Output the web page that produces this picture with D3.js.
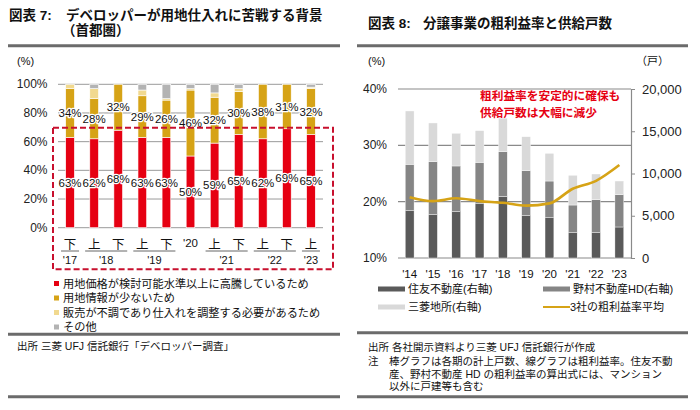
<!DOCTYPE html>
<html><head><meta charset="utf-8">
<script src="https://cdn.jsdelivr.net/npm/d3@7"></script>
<style>
body{margin:0;background:#fff;}
svg{display:block;font-family:"Liberation Sans","Noto Sans CJK JP",sans-serif;}
</style></head>
<body><svg id="c" width="700" height="410"></svg>
<script>
// ---- Left chart data (図表7) ----
const halfLabels = ["下","上","下","上","下","'20","上","下","上","下","上"];
const yearGroups = [["'17",0,0],["'18",1,2],["'19",3,4],["'21",6,7],["'22",8,9],["'23",10,10]];
const priceHigh = [63,62,68,63,63,50,59,65,62,69,65];
const fewInfo   = [34,28,32,29,26,46,32,30,38,31,32];
const salesSlow = [3,7,0,4,1,1,3,2,0,0,1];
const otherReason = [0,3,0,4,10,3,6,3,0,0,2];
const leftTicks = [0,20,40,60,80,100];
const leftLegend = ["用地価格が検討可能水準以上に高騰しているため","用地情報が少ないため","販売が不調であり仕入れを調整する必要があるため","その他"];

// ---- Right chart data (図表8) ----
const years = ["'14","'15","'16","'17","'18","'19","'20","'21","'22","'23"];
const sumitomo   = [5600,5130,5480,6430,7300,5010,4770,3000,3000,3670];
const nomura     = [5490,6270,5410,4890,5280,5310,4340,3270,3900,3820];
const mitsubishi = [6310,4580,3870,3750,3970,4030,3280,3520,3040,1620];
const margin     = [20.8,20.1,20.6,20.1,19.8,19.3,19.7,22.3,23.7,26.5];
const rightPctTicks = [10,20,30,40];
const rightUnitTicks = [0,5000,10000,15000,20000];

const svg = d3.select("#c");
const F = '"Liberation Sans","Noto Sans CJK JP",sans-serif';

function txt(g,x,y,s,opt={}){
  return g.append("text").attr("x",x).attr("y",y).attr("dominant-baseline","central")
    .attr("font-size",opt.size||11).attr("font-weight",opt.bold?"bold":"normal")
    .attr("fill",opt.fill||"#111").attr("text-anchor",opt.anchor||"start").text(s);
}
function hline(x1,x2,y,w,c){svg.append("line").attr("x1",x1).attr("x2",x2).attr("y1",y).attr("y2",y).attr("stroke",c).attr("stroke-width",w);}

// ================= LEFT =================
const L = svg.append("g");
txt(L,9,15,"図表 7:",{size:13.5,bold:true});
txt(L,66,15,"デベロッパーが用地仕入れに苦戦する背景",{size:13.5,bold:true});
txt(L,62,30,"（首都圏）",{size:13.5,bold:true});
hline(8,340,45.7,3,"#6b6b6b");
txt(L,17,61,"(%)",{size:11});

const ly = d3.scaleLinear().domain([0,100]).range([227.7,84.3]);
const lx = d3.scaleBand().domain(d3.range(halfLabels.length)).range([58,323]).paddingInner(0.64).paddingOuter(0.32);

L.append("g").selectAll("line").data(leftTicks).join("line")
  .attr("x1",58).attr("x2",323).attr("y1",d=>ly(d)).attr("y2",d=>ly(d))
  .attr("stroke","#9a9a9a").attr("stroke-width",1);
L.append("g").selectAll("text").data(leftTicks).join("text")
  .attr("x",47.5).attr("y",d=>ly(d)).attr("text-anchor","end").attr("dominant-baseline","central")
  .attr("font-size",12).attr("fill","#222").text(d=>d+"%");

const lSeries = [priceHigh,fewInfo,salesSlow,otherReason];
const lColors = ["#e60012","#d6a316","#f1d98f","#b3b3b3"];
const stackData = halfLabels.map((_,i)=>{const o={i};lSeries.forEach((s,k)=>o["k"+k]=s[i]);return o;});
const stacked = d3.stack().keys(lSeries.map((_,k)=>"k"+k))(stackData);
stacked.forEach((layer,k)=>{
  L.append("g").selectAll("rect").data(layer).join("rect")
   .attr("x",d=>lx(d.data.i)).attr("width",lx.bandwidth())
   .attr("y",d=>ly(d[1])).attr("height",d=>Math.max(0,ly(d[0])-ly(d[1])))
   .attr("fill",lColors[k]).attr("stroke","#fff").attr("stroke-width",0.6);
});
// labels
[0,1].forEach(k=>{
  L.append("g").selectAll("text").data(stacked[k]).join("text")
   .attr("x",d=>lx(d.data.i)+lx.bandwidth()/2).attr("y",d=>ly((d[0]+d[1])/2))
   .attr("text-anchor","middle").attr("dominant-baseline","central")
   .attr("font-size",11.5).attr("fill","#111")
   .attr("stroke","#fff").attr("stroke-width",2.5).attr("paint-order","stroke").attr("stroke-linejoin","round")
   .text(d=>(d[1]-d[0])+"%");
});
// red dashed box
L.append("rect").attr("x",53).attr("y",127.7).attr("width",280).attr("height",141.6)
  .attr("fill","none").attr("stroke","#c8102e").attr("stroke-width",2).attr("stroke-dasharray","6,3");
// x labels
L.append("g").selectAll("text").data(halfLabels).join("text")
  .attr("x",(d,i)=>lx(i)+lx.bandwidth()/2).attr("y",(d,i)=>d.startsWith("'")?242.5:245)
  .attr("text-anchor","middle").attr("dominant-baseline","central").attr("font-size",d=>d.startsWith("'")?11.5:12.5)
  .attr("fill","#111").text(d=>d);
yearGroups.forEach(([lab,a,b])=>{
  const x1=lx(a)+lx.bandwidth()/2-9, x2=lx(b)+lx.bandwidth()/2+9;
  L.append("line").attr("x1",x1).attr("x2",x2).attr("y1",251).attr("y2",251).attr("stroke","#666").attr("stroke-width",1);
  txt(L,(x1+x2)/2,259.5,lab,{size:11,anchor:"middle"});
});
// legend
leftLegend.forEach((s,k)=>{
  const y=283.5+k*14.5;
  L.append("rect").attr("x",54).attr("y",y-2.5).attr("width",5).attr("height",5).attr("fill",lColors[k]);
  txt(L,63,y,s,{size:11.2});
});
hline(8,340,334.3,3,"#6b6b6b");
txt(L,17,345.5,"出所  三菱 UFJ 信託銀行「デベロッパー調査」",{size:10.5});
hline(8,340,396.7,3,"#6b6b6b");

// ================= RIGHT =================
const R = svg.append("g");
txt(R,368,23,"図表 8:",{size:13.5,bold:true});
txt(R,423,23,"分譲事業の粗利益率と供給戸数",{size:13.5,bold:true});
hline(357,688,45.7,3,"#6b6b6b");
txt(R,368,61,"(%)",{size:11});
txt(R,636,61,"（戸）",{size:11});

const ryL = d3.scaleLinear().domain([10,40]).range([258,89]);
const ryR = d3.scaleLinear().domain([0,20000]).range([258,89]);
const rx = d3.scaleBand().domain(years).range([398,631]).paddingInner(0.62).paddingOuter(0.31);

R.append("g").selectAll("line").data(rightPctTicks).join("line")
  .attr("x1",398).attr("x2",631).attr("y1",d=>ryL(d)).attr("y2",d=>ryL(d))
  .attr("stroke","#8a8a8a").attr("stroke-width",1.2);
R.append("g").selectAll("text").data(rightPctTicks).join("text")
  .attr("x",387).attr("y",d=>ryL(d)).attr("text-anchor","end").attr("dominant-baseline","central")
  .attr("font-size",12).attr("fill","#222").text(d=>d+"%");

const rSeries=[sumitomo,nomura,mitsubishi];
const rColors=["#5a5a5a","#858585","#d9d9d9"];
const rData = years.map((y,i)=>{const o={y};rSeries.forEach((s,k)=>o["k"+k]=s[i]);return o;});
const rStack = d3.stack().keys(["k0","k1","k2"])(rData);
rStack.forEach((layer,k)=>{
  R.append("g").selectAll("rect").data(layer).join("rect")
   .attr("x",d=>rx(d.data.y)).attr("width",rx.bandwidth())
   .attr("y",d=>ryR(d[1])).attr("height",d=>ryR(d[0])-ryR(d[1]))
   .attr("fill",rColors[k]).attr("stroke","#fff").attr("stroke-width",0.4);
});
// right axis
const ra = R.append("g").attr("transform","translate(631,0)")
  .call(d3.axisRight(ryR).tickValues(rightUnitTicks).tickSize(4).tickPadding(7).tickFormat(d3.format(",")));
ra.select(".domain").attr("stroke","#8a8a8a").attr("stroke-width",1.2);
ra.selectAll(".tick line").attr("stroke","#8a8a8a");
ra.selectAll(".tick text").attr("font-size",13).attr("fill","#222").attr("font-family",F);
// line
R.append("path").datum(margin)
  .attr("d",d3.line().x((d,i)=>rx(years[i])+rx.bandwidth()/2).y(d=>ryL(d)).curve(d3.curveMonotoneX))
  .attr("fill","none").attr("stroke","#d6a316").attr("stroke-width",2.6);
// x labels
R.append("g").selectAll("text").data(years).join("text")
  .attr("x",d=>rx(d)+rx.bandwidth()/2).attr("y",273.5).attr("text-anchor","middle").attr("dominant-baseline","central")
  .attr("font-size",11.5).attr("fill","#111").text(d=>d);
// annotation
txt(R,480,95.5,"粗利益率を安定的に確保も",{size:11.7,bold:true,fill:"#e60012"});
txt(R,480,112,"供給戸数は大幅に減少",{size:11.7,bold:true,fill:"#e60012"});
// legend
const rLeg=[["住友不動産(右軸)",378,289,rColors[0],"bar"],["野村不動産HD(右軸)",543,289,rColors[1],"bar"],
            ["三菱地所(右軸)",378,307,rColors[2],"bar"],["3社の粗利益率平均",543,307,"#d6a316","line"]];
rLeg.forEach(([s,x,y,c,t])=>{
  R.append("rect").attr("x",x).attr("y",t==="bar"?y-2.5:y-1).attr("width",27).attr("height",t==="bar"?5:2).attr("fill",c);
  txt(R,x+(t==="bar"?30:27),y,s,{size:11});
});
hline(357,688,332.7,3,"#6b6b6b");
txt(R,368,347,"出所  各社開示資料より三菱 UFJ 信託銀行が作成",{size:10.5});
txt(R,368,361,"注",{size:10.5});
txt(R,389,361,"棒グラフは各期の計上戸数、線グラフは粗利益率。住友不動",{size:10.5});
txt(R,389,373.5,"産、野村不動産 HD の粗利益率の算出式には、マンション",{size:10.5});
txt(R,389,386,"以外に戸建等も含む",{size:10.5});
hline(357,688,396.7,3,"#6b6b6b");
</script></body></html>
